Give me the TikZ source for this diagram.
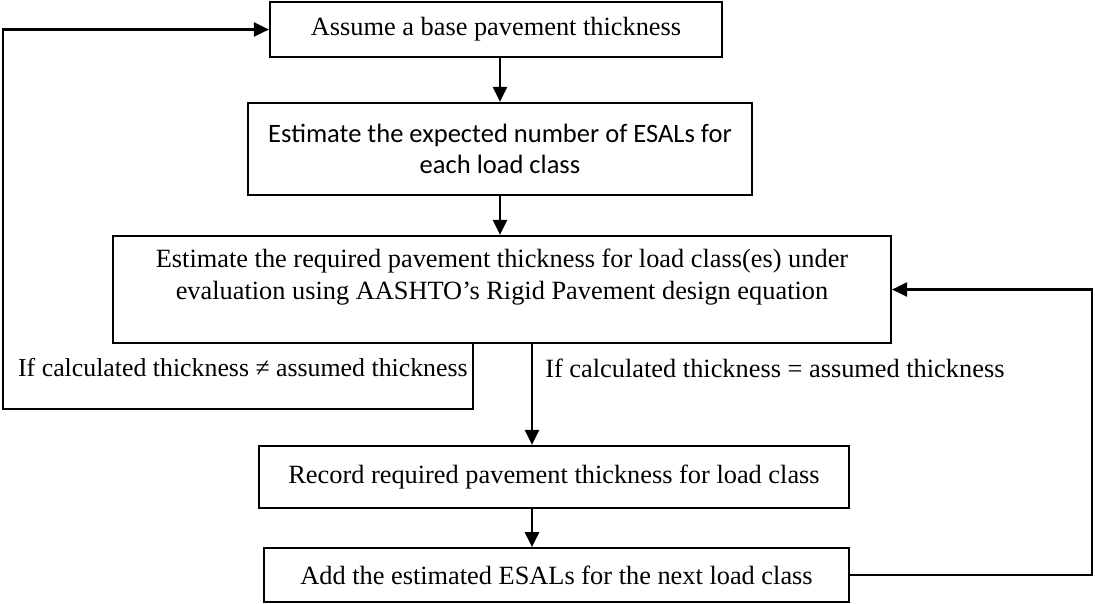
\documentclass[tikz,border=0pt]{standalone}
\usepackage{fontspec}
\setmainfont{Liberation Serif}
\newfontfamily\sansbox{Carlito}
\usetikzlibrary{arrows.meta,calc}
\tikzset{
  box/.style={draw=black, line width=1.3pt, rectangle, inner sep=0pt, align=center, font=\fontsize{15}{18}\selectfont},
  sbox/.style={box, font=\sansbox\fontsize{15.1}{18}\selectfont},
  line/.style={draw=black, line width=1.3pt},
  arr/.style={line, -{Triangle[length=0.3cm, width=0.28cm]}},
  lbl/.style={font=\fontsize{15}{18}\selectfont, inner sep=0pt}
}
\begin{document}
\begin{tikzpicture}[x=0.02cm, y=-0.02cm]
  \useasboundingbox (0,0) rectangle (1095,603);

  \node[box, minimum width=9.04cm, minimum height=1.1cm] (assume) at (496,29.5) {Assume a base pavement thickness};
  \node[sbox, minimum width=10.08cm, minimum height=1.84cm] (esals) at (500,149) {Estimate the expected number of ESALs for\\each load class};
  \node[box, minimum width=15.56cm, minimum height=2.14cm, text depth=0.6cm] (required) at (502,289.5) {Estimate the required pavement thickness for load class(es) under\\evaluation using AASHTO's Rigid Pavement design equation};
  \node[box, minimum width=11.8cm, minimum height=1.24cm] (record) at (554,477) {Record required pavement thickness for load class};
  \node[box, minimum width=11.7cm, minimum height=1.07cm] (next) at (556.5,575) {Add the estimated ESALs for the next load class};

  \node[lbl, anchor=east, font=\fontsize{14.7}{18}\selectfont] (neq) at (468,368) {If calculated thickness ≠ assumed thickness};
  \node[lbl, anchor=west] (eq) at (545,368) {If calculated thickness = assumed thickness};

  \coordinate (split) at (532,0);
  \coordinate (back) at (473,409);
  \coordinate (left) at (3,0);
  \coordinate (right) at (1092,0);

  \draw[arr] (esals.north |- assume.south) -- (esals.north);
  \draw[arr] (esals.south) -- (esals.south |- required.north);
  \draw[arr] (split |- required.south) -- (split |- record.north);
  \draw[arr] (split |- record.south) -- (split |- next.north);
  \draw[arr] (back |- required.south) -- (back) -- (left |- back) -- (left |- assume.west) -- (assume.west);
  \draw[arr] (next.east) -- (right |- next.east) -- (right |- required.east) -- (required.east);
\end{tikzpicture}
\end{document}
